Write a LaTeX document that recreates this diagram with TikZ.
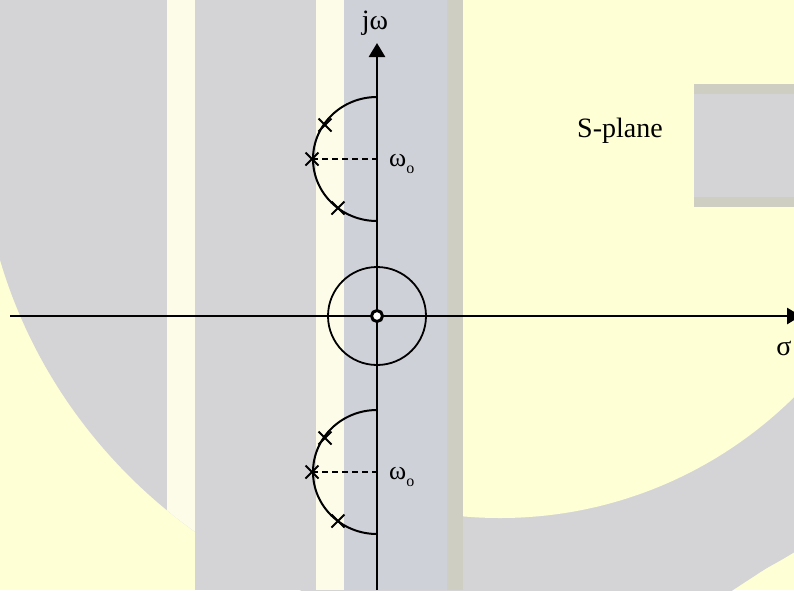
\documentclass[tikz,border=0pt]{standalone}
\usepackage{fontspec}
\setmainfont{Liberation Serif}
\usetikzlibrary{arrows.meta}
\definecolor{bgyellow}{RGB}{255,255,214}
\definecolor{wmgray}{RGB}{212,212,214}
\definecolor{wmblue}{RGB}{207,209,217}
\definecolor{wmlight}{RGB}{252,252,232}
\definecolor{wmtan}{RGB}{206,206,194}
\tikzset{
  axisline/.style={line width=2.8pt, -{Triangle[length=14pt,width=16pt]}},
  locus/.style={line width=2pt},
  ringline/.style={line width=1.8pt},
  guide/.style={line width=1.8pt, dash pattern=on 6pt off 4pt},
  polecross/.pic={\draw[line width=2pt] (-6.5,-6.5) -- (6.5,6.5) (-6.5,6.5) -- (6.5,-6.5);},
  lbl/.style={inner sep=0pt, font=\fontsize{28}{28}\selectfont},
  sublbl/.style={inner sep=0pt, font=\fontsize{26}{26}\selectfont},
  zeromark/.style={circle, draw, fill=white, line width=3pt, minimum size=11pt, inner sep=0pt},
}
\begin{document}
\begin{tikzpicture}[x=1pt, y=-1pt]
  % page and background watermark
  \clip (0,0) rectangle (794,590);
  \fill[bgyellow] (0,0) rectangle (794,590);
  \fill[wmgray] (510,120) ellipse[x radius=530, y radius=512];
  \fill[wmgray] (463,380) -- (820,380) -- (820,532)
    .. controls (800,546) and (770,566) .. (733,590)
    -- (720,600) -- (463,600) -- cycle;
  \begin{scope}
    \clip (510,120) ellipse[x radius=530, y radius=512];
    \fill[wmlight] (167,0) rectangle (195,590);
  \end{scope}
  \fill[wmgray] (195,0) rectangle (316,590);
  \fill[wmlight] (316,0) rectangle (344,590);
  \fill[wmblue] (344,0) rectangle (447,590);
  \fill[wmtan] (447,0) rectangle (463,590);
  \begin{scope}
    \clip (463,-10) rectangle (900,700);
    \fill[bgyellow] (500,100) circle[radius=418];
  \end{scope}
  \fill[wmgray] (694,84) rectangle (794,207);
  \fill[wmtan] (694,84) rectangle (794,94);
  \fill[wmtan] (694,197) rectangle (794,207);

  % coordinates
  \coordinate (O) at (377,316);
  \coordinate (yTop) at (377,43);
  \coordinate (yBot) at (377,590);
  \coordinate (xL) at (10,316);
  \coordinate (xR) at (801,316);
  \coordinate (cU) at (377,159);
  \coordinate (cD) at (377,472);

  % axes
  \draw[axisline] (yBot) -- (yTop);
  \draw[axisline] (xL) -- (xR);

  % circle around origin
  \draw[ringline] (O) circle[radius=49];

  % upper locus
  \draw[locus] (377,97) arc[start angle=270, end angle=90, x radius=64, y radius=62];
  \coordinate (pU1) at (325,125);
  \coordinate (pU2) at (312,159);
  \coordinate (pU3) at (338,208);
  \draw[guide] (pU2) -- (cU);
  \pic at (pU1) {polecross};
  \pic at (pU2) {polecross};
  \pic at (pU3) {polecross};

  % lower locus
  \draw[locus] (377,410) arc[start angle=270, end angle=90, x radius=64, y radius=62];
  \coordinate (pD1) at (325,438);
  \coordinate (pD2) at (312,472);
  \coordinate (pD3) at (338,521);
  \draw[guide] (pD2) -- (cD);
  \pic at (pD1) {polecross};
  \pic at (pD2) {polecross};
  \pic at (pD3) {polecross};

  % zero at origin
  \node[zeromark] (zero) at (O) {};

  % labels
  \node[lbl, anchor=base] (jw) at (375,29) {jω};
  \node[lbl, anchor=base] (sigma) at (784,355) {σ};
  \node[lbl, anchor=base west] (splane) at (577,137) {S-plane};
  \node[sublbl, anchor=base west] (wU) at (389,166) {ω\raisebox{-7pt}{\fontsize{16}{16}\selectfont o}};
  \node[sublbl, anchor=base west] (wD) at (389,479) {ω\raisebox{-7pt}{\fontsize{16}{16}\selectfont o}};
\end{tikzpicture}
\end{document}
